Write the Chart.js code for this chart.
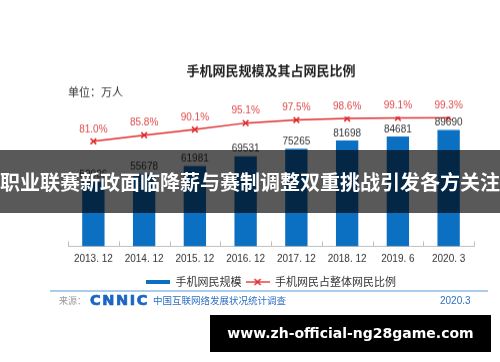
<!DOCTYPE html>
<html>
<head>
<meta charset="utf-8">
<script src="https://cdn.jsdelivr.net/npm/chart.js@4.4.1/dist/chart.umd.min.js"></script>
<style>
  html, body { margin: 0; padding: 0; background: #fff; }
  body { width: 500px; height: 362px; position: relative; overflow: hidden; font-family: "Noto Sans CJK SC", sans-serif; }
  #wrap { position: absolute; left: 0; top: 0; width: 500px; height: 296.5px; }
  .abs { position: absolute; white-space: nowrap; }
  #band { left: 0; top: 150px; width: 500px; height: 63px; background: rgba(0,0,0,0.65); color: #fff;
          font-weight: bold; font-size: 20px; line-height: 63px; text-align: center; }
  #rule { left: 50px; top: 290px; width: 438px; height: 2px; background: #a9cbee; }
  #src { left: 59px; top: 293px; font-size: 9px; color: #999; line-height: 15px; }
  #logo { left: 90px; top: 291px; font-family: "DejaVu Sans", sans-serif; font-weight: bold; font-size: 14.5px;
          letter-spacing: 1.6px; color: #1a66c2; line-height: 18px; -webkit-text-stroke: 0.7px #1a66c2; }
  #survey { left: 153px; top: 293px; font-size: 9.5px; color: #2f6fc0; line-height: 15px; }
  #date { left: 440px; top: 293px; font-family: "Liberation Sans", sans-serif; font-size: 10px; color: #2f6fc0; line-height: 15px; }
  #url { left: 210px; top: 315px; width: 281px; height: 37px; background: #000; color: #fff;
         font-family: "DejaVu Sans", sans-serif; font-weight: bold; font-size: 14px; line-height: 37px; text-align: center; }
</style>
</head>
<body>
<div id="wrap"><canvas id="chart"></canvas></div>
<div class="abs" id="band">职业联赛新政面临降薪与赛制调整双重挑战引发各方关注</div>
<div class="abs" id="rule"></div>
<div class="abs" id="src">来源：</div>
<div class="abs" id="logo">CNNIC</div>
<div class="abs" id="survey">中国互联网络发展状况统计调查</div>
<div class="abs" id="date">2020.3</div>
<div class="abs" id="url">www.zh-official-ng28game.com</div>
<script>
// chart data
const categories = ['2013. 12', '2014. 12', '2015. 12', '2016. 12', '2017. 12', '2018. 12', '2019. 6', '2020. 3'];
const users = [50006, 55678, 61981, 69531, 75265, 81698, 84681, 89690];
const share = [81.0, 85.8, 90.1, 95.1, 97.5, 98.6, 99.1, 99.3];
const seriesNames = ['手机网民规模', '手机网民占整体网民比例'];

const BLUE = '#0b6fc2';
const RED = '#e02a2a';

// small legend swatches
function swatch(draw) {
  const c = document.createElement('canvas');
  c.width = 24; c.height = 10;
  draw(c.getContext('2d'));
  return c;
}
const barSwatch = swatch(g => { g.fillStyle = BLUE; g.fillRect(0, 3, 24, 4); });
const lineSwatch = swatch(g => {
  g.strokeStyle = RED; g.lineWidth = 1.3;
  g.beginPath(); g.moveTo(0, 5); g.lineTo(24, 5); g.stroke();
  g.lineWidth = 1.6;
  g.beginPath(); g.moveTo(9, 2); g.lineTo(15, 8); g.moveTo(15, 2); g.lineTo(9, 8); g.stroke();
});

// value labels above bars and points
const valueLabels = {
  id: 'valueLabels',
  afterDatasetsDraw(chart) {
    const ctx = chart.ctx;
    ctx.save();
    ctx.textAlign = 'center';
    ctx.textBaseline = 'bottom';
    ctx.font = '10px "Liberation Sans", Arial, sans-serif';
    chart.getDatasetMeta(0).data.forEach((el, i) => {
      ctx.fillStyle = '#333';
      ctx.fillText(String(users[i]), el.x, el.y - 2);
    });
    chart.getDatasetMeta(1).data.forEach((el, i) => {
      ctx.fillStyle = '#e04848';
      ctx.fillText(share[i].toFixed(1) + '%', el.x, el.y - 7);
    });
    ctx.restore();
  }
};

// small ticks on the axis between categories
const axisTicks = {
  id: 'axisTicks',
  afterDraw(chart) {
    const x = chart.scales.x;
    const a = chart.chartArea;
    const ctx = chart.ctx;
    ctx.save();
    ctx.strokeStyle = '#bfbfbf';
    ctx.lineWidth = 1;
    ctx.beginPath();
    for (let i = 0; i <= categories.length; i++) {
      let px;
      if (i === 0) px = a.left;
      else if (i === categories.length) px = a.right;
      else px = (x.getPixelForValue(i - 1) + x.getPixelForValue(i)) / 2;
      px = Math.round(px) + 0.5;
      ctx.moveTo(px, a.bottom - 5);
      ctx.lineTo(px, a.bottom);
    }
    ctx.stroke();
    ctx.restore();
  }
};

new Chart(document.getElementById('chart'), {
  type: 'bar',
  data: {
    labels: categories,
    datasets: [
      {
        type: 'bar',
        label: seriesNames[0],
        data: users,
        backgroundColor: BLUE,
        yAxisID: 'y',
        barPercentage: 0.44,
        categoryPercentage: 1,
        order: 1
      },
      {
        type: 'line',
        label: seriesNames[1],
        data: share,
        borderColor: RED,
        borderWidth: 1.5,
        pointStyle: 'crossRot',
        pointRadius: 4,
        pointBorderWidth: 1.6,
        pointBorderColor: RED,
        yAxisID: 'y1',
        order: 0
      }
    ]
  },
  options: {
    responsive: true,
    maintainAspectRatio: false,
    animation: false,
    layout: { padding: { left: 68, right: 26, top: 62, bottom: 0 } },
    scales: {
      x: {
        grid: { display: false, drawTicks: false },
        border: { display: true, color: '#bfbfbf' },
        ticks: { padding: 7, color: '#333', font: { size: 10, family: '"Liberation Sans", Arial, sans-serif' } }
      },
      y: { display: false, min: 0, max: 100000 },
      y1: { display: false, min: 0, max: 100 }
    },
    plugins: {
      title: {
        display: true,
        text: '手机网民规模及其占网民比例',
        color: '#222',
        font: { size: 13, weight: 'bold', family: '"Noto Sans CJK SC", sans-serif' },
        padding: { top: 0, bottom: 0 }
      },
      subtitle: {
        display: true,
        text: '单位：万人',
        align: 'start',
        color: '#333',
        font: { size: 11, family: '"Noto Sans CJK SC", sans-serif' },
        padding: { top: 7.6, bottom: 17.9 }
      },
      legend: {
        position: 'bottom',
        labels: {
          usePointStyle: true,
          pointStyleWidth: 24,
          padding: 4,
          color: '#333',
          font: { size: 11, family: '"Noto Sans CJK SC", sans-serif' },
          generateLabels: chart => Chart.defaults.plugins.legend.labels.generateLabels(chart)
            .map(l => ({ ...l, pointStyle: l.datasetIndex === 0 ? barSwatch : lineSwatch })),
          sort: (a, b) => a.datasetIndex - b.datasetIndex
        }
      },
      tooltip: { enabled: false }
    }
  },
  plugins: [valueLabels, axisTicks]
});
</script>
</body>
</html>
